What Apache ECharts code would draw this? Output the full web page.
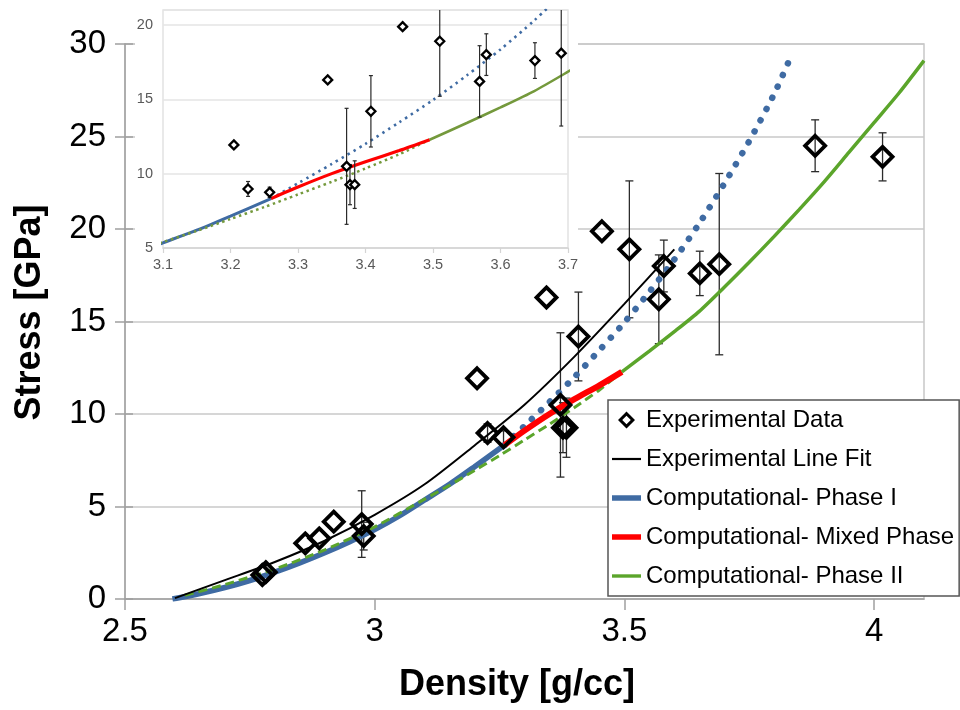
<!DOCTYPE html>
<html><head><meta charset="utf-8">
<script src="https://cdn.jsdelivr.net/npm/echarts@6/dist/echarts.min.js"></script>
<style>html,body{margin:0;padding:0;background:#fff}#c{width:960px;height:710px}</style>
</head><body><div id="c"></div>
<script>
// ---------- data ----------
const expX   = [2.775, 2.782, 2.861, 2.889, 2.918, 2.974, 2.978, 3.205, 3.226, 3.258, 3.344, 3.372, 3.377, 3.384, 3.408, 3.455, 3.510, 3.569, 3.579, 3.651, 3.690, 3.882, 4.017];
const expY   = [1.30, 1.45, 3.01, 3.28, 4.18, 4.05, 3.40, 11.93, 8.97, 8.74, 16.30, 10.49, 9.26, 9.26, 14.19, 19.88, 18.90, 16.20, 18.00, 17.60, 18.10, 24.50, 23.90];
const expErr = [0, 0, 0, 0, 0, 1.8, 0.75, 0, 0.5, 0.35, 0, 3.9, 1.35, 1.6, 2.4, 0, 3.7, 2.4, 1.4, 1.2, 4.9, 1.4, 1.3];

const fitX = [2.60, 2.70, 2.80, 2.90, 3.00, 3.10, 3.20, 3.30, 3.40, 3.50, 3.60];
const fitY = [0.05, 1.02, 2.00, 3.15, 4.55, 6.20, 8.30, 10.50, 13.10, 15.95, 18.90];

const phase1X = [2.595, 2.65, 2.70, 2.75, 2.80, 2.85, 2.90, 2.95, 3.00, 3.05, 3.10, 3.15, 3.20, 3.26];
const phase1Y = [0.00, 0.30, 0.62, 1.00, 1.45, 1.95, 2.50, 3.10, 3.75, 4.50, 5.35, 6.20, 7.15, 8.32];
const phase1ExtX = [3.26, 3.30, 3.35, 3.40, 3.45, 3.50, 3.55, 3.60, 3.65, 3.70, 3.75, 3.80, 3.833];
const phase1ExtY = [8.32, 9.35, 10.65, 12.00, 13.45, 14.95, 16.60, 18.35, 20.30, 22.45, 24.75, 27.30, 29.30];
const mixedX = [3.26, 3.30, 3.35, 3.40, 3.45, 3.495];
const mixedY = [8.32, 9.10, 10.00, 10.80, 11.55, 12.28];
const phase2X = [3.495, 3.55, 3.60, 3.65, 3.70, 3.75, 3.80, 3.85, 3.90, 3.95, 4.00, 4.05, 4.10];
const phase2Y = [12.28, 13.40, 14.45, 15.55, 16.85, 18.20, 19.60, 21.05, 22.55, 24.15, 25.75, 27.35, 29.10];
const phase2ExtX = [2.62, 2.70, 2.80, 2.90, 3.00, 3.10, 3.15, 3.20, 3.25, 3.30, 3.35, 3.40, 3.45, 3.495];
const phase2ExtY = [0.20, 0.78, 1.62, 2.66, 3.90, 5.40, 6.15, 6.95, 7.75, 8.60, 9.45, 10.35, 11.30, 12.28];

const mainXTicks  = [2.5, 3, 3.5, 4];
const mainYTicks  = [0, 5, 10, 15, 20, 25, 30];
const insetXTicks = [3.1, 3.2, 3.3, 3.4, 3.5, 3.6, 3.7];
const insetYTicks = [5, 10, 15, 20];

const legendNames = ['Experimental Data', 'Experimental Line Fit', 'Computational- Phase I', 'Computational- Mixed Phase', 'Computational- Phase II'];

// ---------- helpers ----------
const pts = (xs, ys) => xs.map((x, i) => [x, ys[i]]);
const errData = expX.map((x, i) => [x, expY[i], expErr[i]]).filter(d => d[2] > 0);
const BLUE = '#3f6ba3', RED = '#ff0000', GREEN = '#5ba52b', GREEN2 = '#74993c';
const FONT = 'Liberation Sans, Arial, sans-serif';

function errRender(cap, lw) {
  return function (params, api) {
    const cs = params.coordSys;
    const x = api.value(0), y = api.value(1), e = api.value(2);
    const t = api.coord([x, y + e]), b = api.coord([x, y - e]);
    if (t[0] < cs.x - 0.5 || t[0] > cs.x + cs.width + 0.5) return null;
    let y1 = t[1], y2 = b[1];
    const topC = y1 >= cs.y, botC = y2 <= cs.y + cs.height;
    y1 = Math.max(y1, cs.y); y2 = Math.min(y2, cs.y + cs.height);
    const st = { stroke: '#2b2b2b', lineWidth: lw };
    const ch = [{ type: 'line', shape: { x1: t[0], y1: y1, x2: t[0], y2: y2 }, style: st }];
    if (topC) ch.push({ type: 'line', shape: { x1: t[0] - cap, y1: y1, x2: t[0] + cap, y2: y1 }, style: st });
    if (botC) ch.push({ type: 'line', shape: { x1: t[0] - cap, y1: y2, x2: t[0] + cap, y2: y2 }, style: st });
    return { type: 'group', children: ch };
  };
}

function line(name, xs, ys, color, width, type, xi, z, cap) {
  return {
    type: 'line', name: name, xAxisIndex: xi, yAxisIndex: xi, data: pts(xs, ys),
    showSymbol: false, symbol: 'none', smooth: 0.25, z: z, silent: true,
    lineStyle: { color: color, width: width, type: type || 'solid', cap: cap || 'butt' },
    itemStyle: { color: color }
  };
}

const diamondRing = 'path://M8.5,0L17,8.5L8.5,17L0,8.5ZM8.5,4.2L4.2,8.5L8.5,12.8L12.8,8.5Z';

const option = {
  animation: false,
  backgroundColor: '#fff',
  textStyle: { fontFamily: FONT },
  grid: [
    { left: 125, right: 36, top: 44, bottom: 111, show: true, borderColor: '#c8c8c8', borderWidth: 1.5, backgroundColor: 'transparent' },
    { left: 163, right: 392, top: 10, bottom: 462, show: true, borderColor: '#e2e2e2', borderWidth: 1.5, backgroundColor: 'transparent', z: 5 }
  ],
  graphic: [
    { type: 'rect', shape: { x: 135, y: 0, width: 443, height: 283 }, style: { fill: '#fff' }, z: 3, silent: true }
  ],
  xAxis: [
    {
      gridIndex: 0, type: 'value', min: 2.5, max: 4.1, interval: 0.5,
      axisLine: { show: true, onZero: false, lineStyle: { color: '#a0a0a0', width: 1.5 } },
      axisTick: { show: true, length: 11, customValues: mainXTicks, lineStyle: { color: '#a0a0a0', width: 1.5 } },
      axisLabel: { customValues: mainXTicks, fontSize: 33, color: '#000', margin: 16, fontFamily: FONT, formatter: v => String(v) },
      splitLine: { show: false },
      name: 'Density [g/cc]', nameLocation: 'middle', nameGap: 68,
      nameTextStyle: { fontSize: 36, fontWeight: 'bold', color: '#000', fontFamily: FONT, padding: [0, 15, 0, 0] }
    },
    {
      gridIndex: 1, type: 'value', min: 3.1, max: 3.7, interval: 0.1, z: 10,
      axisLine: { show: true, onZero: false, lineStyle: { color: '#d4d4d4', width: 1.5 } },
      axisTick: { show: true, length: 5, customValues: insetXTicks, lineStyle: { color: '#d4d4d4', width: 1.2 } },
      axisLabel: { customValues: insetXTicks, fontSize: 14.5, color: '#595959', margin: 9, fontFamily: FONT, formatter: v => v.toFixed(1) },
      splitLine: { show: false }
    }
  ],
  yAxis: [
    {
      gridIndex: 0, type: 'value', min: 0, max: 30, interval: 5,
      axisLine: { show: true, onZero: false, lineStyle: { color: '#a0a0a0', width: 1.5 } },
      axisTick: { show: true, length: 10, customValues: mainYTicks, lineStyle: { color: '#a0a0a0', width: 1.5 } },
      axisLabel: { customValues: mainYTicks, fontSize: 33, color: '#000', margin: 19, fontFamily: FONT },
      splitLine: { show: true, lineStyle: { color: '#c8c8c8', width: 1.5 } },
      name: 'Stress [GPa]', nameLocation: 'middle', nameGap: 77, nameRotate: 90,
      nameTextStyle: { fontSize: 36, fontWeight: 'bold', color: '#000', fontFamily: FONT, padding: [0, 0, 0, 18] }
    },
    {
      gridIndex: 1, type: 'value', min: 5, max: 21, interval: 5, z: 10,
      axisLine: { show: false, onZero: false },
      axisTick: { show: false },
      axisLabel: { customValues: insetYTicks, fontSize: 14.5, color: '#595959', margin: 10, fontFamily: FONT },
      splitLine: { show: true, lineStyle: { color: '#e4e4e4', width: 1.5 } }
    },
    {
      gridIndex: 0, type: 'value', min: 0, max: 30, interval: 5, position: 'left', offset: 0,
      axisLine: { show: false, onZero: false },
      axisTick: { show: true, inside: true, length: 8, customValues: mainYTicks, lineStyle: { color: '#a0a0a0', width: 1.5 } },
      axisLabel: { show: false }, splitLine: { show: false }
    }
  ],
  legend: {
    orient: 'vertical', left: 608, top: 400, padding: [7, 5, 7, 4],
    backgroundColor: '#fff', borderColor: '#555', borderWidth: 1.5,
    itemWidth: 29, itemHeight: 17, itemGap: 13, selectedMode: false,
    textStyle: { fontSize: 24, color: '#000', lineHeight: 26, fontFamily: FONT },
    data: [
      { name: legendNames[0], icon: diamondRing, itemStyle: { color: '#000', borderWidth: 0 } },
      { name: legendNames[1], icon: 'path://M0,0H29V2.2H0Z', itemStyle: { color: '#000', borderWidth: 0 } },
      { name: legendNames[2], icon: 'path://M0,0H29V5.5H0Z', itemStyle: { color: BLUE, borderWidth: 0 } },
      { name: legendNames[3], icon: 'path://M0,0H29V5.5H0Z', itemStyle: { color: RED, borderWidth: 0 } },
      { name: legendNames[4], icon: 'path://M0,0H29V3.4H0Z', itemStyle: { color: GREEN, borderWidth: 0 } }
    ]
  },
  series: [
    // main chart
    line(legendNames[2], phase1X, phase1Y, BLUE, 5.5, 'solid', 0, 2),
    line(legendNames[4], phase2ExtX, phase2ExtY, GREEN, 3, [9, 5], 0, 2),
    line(legendNames[2], phase1ExtX, phase1ExtY, BLUE, 6.5, [0.1, 12.5], 0, 2, 'round'),
    line(legendNames[3], mixedX, mixedY, RED, 6, 'solid', 0, 2),
    line(legendNames[4], phase2X, phase2Y, GREEN, 3.5, 'solid', 0, 2),
    line(legendNames[1], fitX, fitY, '#000', 2, 'solid', 0, 2),
    { type: 'custom', name: 'err-main', xAxisIndex: 0, yAxisIndex: 0, data: errData, renderItem: errRender(4, 1.3), z: 2, silent: true },
    {
      type: 'scatter', name: legendNames[0], xAxisIndex: 0, yAxisIndex: 0, data: pts(expX, expY),
      symbol: 'diamond', symbolSize: 20, z: 2, silent: true,
      itemStyle: { color: 'rgba(255,255,255,0)', borderColor: '#000', borderWidth: 3.8, opacity: 1 }
    },
    // inset chart
    line(legendNames[2], phase1X, phase1Y, BLUE, 3, 'solid', 1, 11),
    line(legendNames[4], phase2ExtX, phase2ExtY, GREEN2, 2.5, [2.5, 3.5], 1, 11),
    line(legendNames[2], phase1ExtX, phase1ExtY, BLUE, 2.6, [2.4, 4.4], 1, 11),
    line(legendNames[3], mixedX, mixedY, RED, 3.2, 'solid', 1, 11),
    line(legendNames[4], phase2X, phase2Y, GREEN2, 2.6, 'solid', 1, 11),
    { type: 'custom', name: 'err-inset', xAxisIndex: 1, yAxisIndex: 1, data: errData, renderItem: errRender(2, 1.2), z: 12, silent: true },
    {
      type: 'scatter', name: legendNames[0], xAxisIndex: 1, yAxisIndex: 1, data: pts(expX, expY), clip: true,
      symbol: 'diamond', symbolSize: 9, z: 13, silent: true,
      itemStyle: { color: '#fff', borderColor: '#000', borderWidth: 2.3, opacity: 1 }
    }
  ]
};

const chart = echarts.init(document.getElementById('c'), null, { renderer: 'canvas' });
chart.setOption(option);
</script>
</body></html>
